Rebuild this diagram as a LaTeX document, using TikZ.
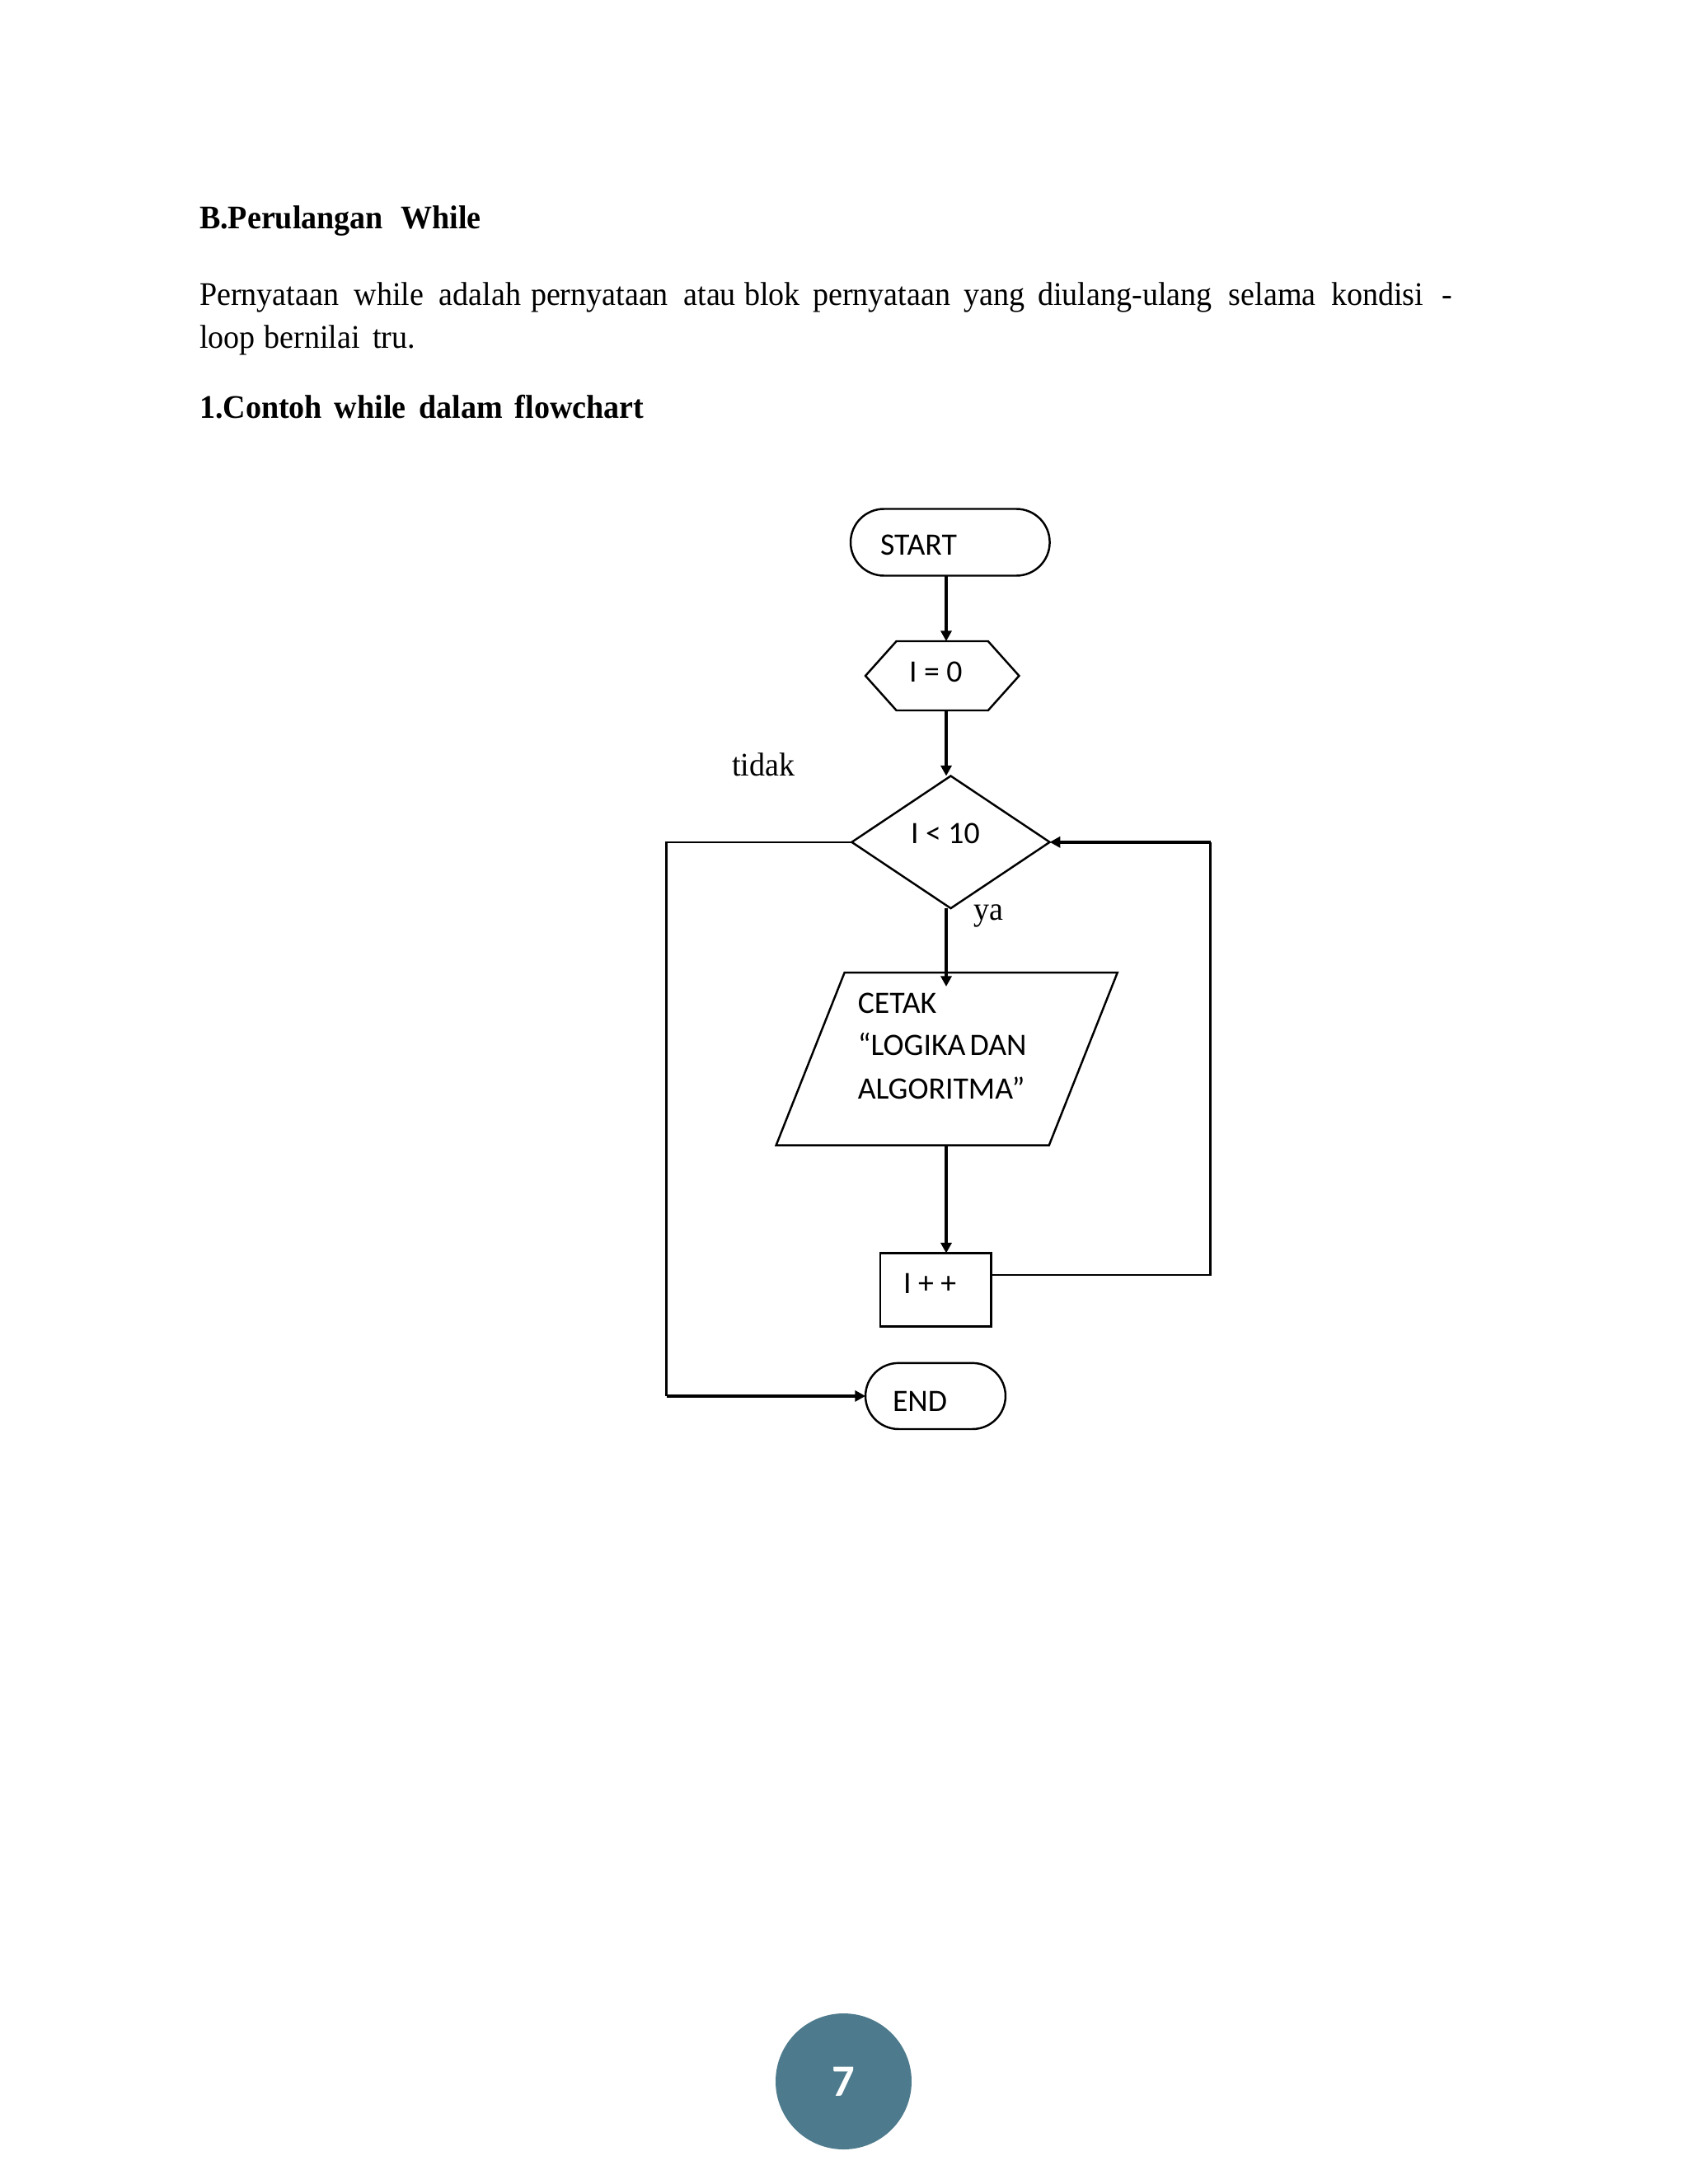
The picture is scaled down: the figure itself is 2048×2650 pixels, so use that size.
\documentclass[tikz,border=0pt]{standalone}
\usepackage{fontspec}
\setmainfont[FakeStretch=0.95]{Liberation Serif}
\newfontfamily\flowfont{Carlito}
\usetikzlibrary{arrows.meta,calc,shapes.geometric,shapes.misc}
\definecolor{badge}{HTML}{4D7A8C}
\newcommand{\gap}[1]{\hspace{0pt plus #1fil}}
\tikzset{
  x=0.02cm,y=-0.02cm,
  shapeline/.style={draw=black,line width=1.4pt,inner sep=0pt,outer sep=0pt},
  terminal/.style={shapeline,rounded rectangle,rounded rectangle arc length=180},
  frame/.style={inner sep=0pt,outer sep=0pt,rectangle},
  outline/.style={draw=black,line width=1.4pt,line join=miter},
  decision/.style={shapeline,diamond},
  procbox/.style={shapeline,rectangle},
  flowtext/.style={font=\flowfont\fontsize{21.5pt}{28.6pt}\selectfont,anchor=base west,inner sep=0pt,outer sep=0pt},
  doctext/.style={font=\fontsize{22.8pt}{22.8pt}\selectfont,anchor=base west,inner sep=0pt,outer sep=0pt},
  dochead/.style={doctext,font=\bfseries\fontsize{22.8pt}{22.8pt}\selectfont},
  flow/.style={draw=black,line width=2pt,-{Triangle[length=7.2pt,width=7.4pt]}},
  thinline/.style={draw=black,line width=1.4pt},
}
\begin{document}
\begin{tikzpicture}
\useasboundingbox (0,0) rectangle (2048,2650);
\fill[white] (0,0) rectangle (2048,2650);
% page text
\node[dochead] (h1) at (242,277) {\makebox[194.6pt][s]{B.Perulangan\gap{1}While}};
\node[doctext] (p1) at (242,370) {\makebox[865pt][s]{Pernyataan\gap{11}while\gap{11}adalah\gap{7}pernyataan\gap{11}atau\gap{6}blok\gap{9}pernyataan\gap{10}yang\gap{9}diulang-ulang\gap{12}selama\gap{11}kondisi\gap{13}-}};
\node[doctext] (p2) at (242,422.5) {\makebox[149pt][s]{loop\gap{8}bernilai\gap{11}tru.}};
\node[dochead] (h2) at (242,507) {\makebox[307pt][s]{1.Contoh\gap{10}while\gap{11}dalam\gap{10}flowchart}};
% shapes
\node[terminal,minimum width=137.5pt,minimum height=46.1pt] (start) at (1152.8,658) {};
\node[frame,minimum width=106.1pt,minimum height=47.8pt] (init) at (1143.2,820) {};
\draw[outline] (init.west) -- ($(init.north west)+(37.6,0)$) -- ($(init.north east)+(-37.6,0)$) -- (init.east) -- ($(init.south east)+(-37.6,0)$) -- ($(init.south west)+(37.6,0)$) -- cycle;
\node[decision,minimum width=136.7pt,minimum height=91.4pt] (cond) at (1153.5,1021.8) {};
\node[frame,minimum width=235.7pt,minimum height=119.3pt] (print) at (1148.7,1284.85) {};
\draw[outline] (print.south west) -- ($(print.north west)+(83,0)$) -- (print.north east) -- ($(print.south east)+(-83,0)$) -- cycle;
\node[procbox,minimum width=76.5pt,minimum height=50.6pt] (inc) at (1135.15,1565) {};
\node[terminal,minimum width=96.7pt,minimum height=45.6pt] (stop) at (1135,1693.9) {};
% labels in shapes
\node[flowtext] (tstart) at (1068,673.6) {START};
\node[flowtext] (tinit) at (1103,827.5) {I = 0};
\node[flowtext] (tcond) at (1105,1023) {I < 10};
\node[flowtext] (t1) at (1040.8,1229.5) {CETAK};
\node[flowtext] (t2) at (1040.8,1280) {“LOGIKA\hspace{0.136em}DAN};
\node[flowtext] (t3) at (1040.8,1333) {ALGORITMA”};
\node[flowtext] (tinc) at (1096,1569) {I + +};
\node[flowtext] (tstop) at (1083,1712) {END};
\node[doctext] (tidak) at (888,941.4) {tidak};
\node[doctext] (ya) at (1181.7,1116) {ya};
% connectors
\coordinate (spine) at (1148,0);
\coordinate (into) at (1148,1197);
\coordinate (leftx) at (808.5,0);
\coordinate (rightx) at (1468.7,0);
\coordinate (incr) at (inc.east |- 0,1547);
\coordinate (leftc) at (cond.west -| leftx);
\coordinate (leftd) at (stop.west -| leftx);
\coordinate (rightc) at (cond.east -| rightx);
\coordinate (rightd) at (incr -| rightx);
\draw[flow] (start.south -| spine) -- (init.north -| spine);
\draw[flow] (init.south -| spine) -- (cond.north -| spine);
\draw[flow] (cond.south -| spine) -- (into);
\draw[flow] (print.south -| spine) -- (inc.north -| spine);
\draw[thinline] (incr) -- (rightd) -- (rightc);
\draw[flow] (rightc) -- (cond.east);
\draw[thinline] (cond.west) -- (leftc) -- (leftd);
\draw[flow] (leftd) -- (stop.west);
% page number
\node[circle,fill=badge,minimum size=93.9pt,inner sep=0pt,text=white,font=\flowfont\bfseries\fontsize{31pt}{31pt}\selectfont] (pg) at (1023.5,2525.5) {7};
\end{tikzpicture}
\end{document}
